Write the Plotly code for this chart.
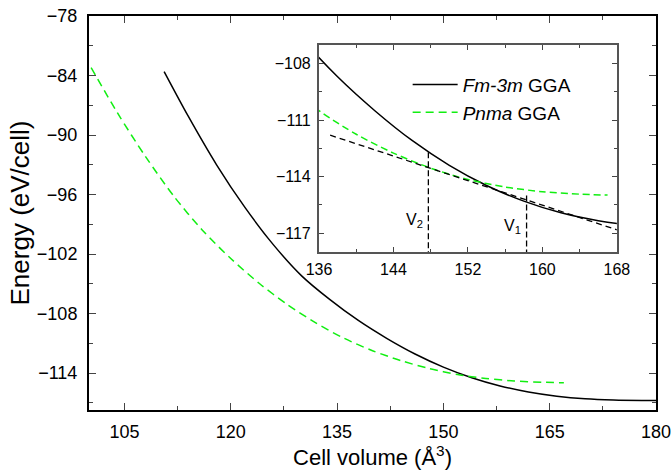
import plotly.graph_objects as go

# Fm-3m GGA (black solid)
fm_v = [110.6, 114, 118, 122, 126, 130, 134, 138, 142, 146, 150, 154, 158, 162, 166, 170, 174, 178, 180]
fm_e = [-83.6, -88.1, -93.0, -97.3, -101.05, -104.2, -106.6, -108.7, -110.5, -112.08, -113.4, -114.47, -115.3,
        -115.92, -116.34, -116.6, -116.72, -116.76, -116.76]

# Pnma GGA (green dashed)
pn_v = [100.3, 104, 108, 112, 116, 120, 124, 128, 132, 136, 140, 144, 148, 152, 156, 160, 164, 167]
pn_e = [-83.2, -87.75, -92.2, -96.2, -99.6, -102.45, -104.95, -107.1, -108.95, -110.5, -111.75, -112.75, -113.55,
        -114.15, -114.55, -114.8, -114.93, -114.98]

# common tangent (inset)
tan_v = [137.2, 168.0]
tan_e = [-111.8, -116.82]

# transition volumes
v2 = 147.75
v1 = 158.3
v2_top = -112.7
v1_top = -115.0

FONT = "Arial, Liberation Sans, sans-serif"
GREEN = "#11ee11"

fig = go.Figure()
fig.add_trace(go.Scatter(x=fm_v, y=fm_e, mode="lines", line=dict(color="black", width=1.5, shape="spline", smoothing=0.8),
                         name="<i>Fm-3m</i> GGA"))
fig.add_trace(go.Scatter(x=pn_v, y=pn_e, mode="lines",
                         line=dict(color=GREEN, width=1.5, dash="8px,5px", shape="spline", smoothing=0.8),
                         name="<i>Pnma</i> GGA"))
# inset
fig.add_trace(go.Scatter(x=fm_v, y=fm_e, mode="lines", line=dict(color="black", width=1.5, shape="spline", smoothing=0.8),
                         xaxis="x2", yaxis="y2", showlegend=False))
fig.add_trace(go.Scatter(x=pn_v, y=pn_e, mode="lines",
                         line=dict(color=GREEN, width=1.5, dash="7px,4px", shape="spline", smoothing=0.8),
                         xaxis="x2", yaxis="y2", showlegend=False))
fig.add_trace(go.Scatter(x=tan_v, y=tan_e, mode="lines", line=dict(color="black", width=1.3, dash="6px,4px"),
                         xaxis="x2", yaxis="y2", showlegend=False))
fig.add_trace(go.Scatter(x=[v2, v2], y=[v2_top, -118], mode="lines", line=dict(color="black", width=1.3, dash="6px,3px"),
                         xaxis="x2", yaxis="y2", showlegend=False))
fig.add_trace(go.Scatter(x=[v1, v1], y=[v1_top, -118], mode="lines", line=dict(color="black", width=1.3, dash="6px,3px"),
                         xaxis="x2", yaxis="y2", showlegend=False))

fig.add_annotation(x=v2 - 0.4, y=-116.35, xref="x2", yref="y2", text="V<sub>2</sub>", showarrow=False,
                   xanchor="right", yanchor="middle", font=dict(size=16, color="black", family=FONT))
fig.add_annotation(x=v1 - 0.4, y=-116.65, xref="x2", yref="y2", text="V<sub>1</sub>", showarrow=False,
                   xanchor="right", yanchor="middle", font=dict(size=16, color="black", family=FONT))

fig.update_layout(
    width=672, height=475,
    margin=dict(l=89, r=16, t=16, b=65),
    paper_bgcolor="white", plot_bgcolor="white",
    font=dict(family=FONT, color="black"),
    showlegend=True,
    legend=dict(x=0.562, y=0.874, xanchor="left", yanchor="top", bgcolor="rgba(0,0,0,0)",
                font=dict(size=19, family=FONT, color="black"), tracegroupgap=0, itemwidth=45),
    xaxis=dict(range=[100, 180], tick0=105, dtick=15, ticks="inside", ticklen=7, tickwidth=1.2,
               minor=dict(dtick=7.5, tick0=105, ticks="inside", ticklen=4, tickwidth=1.2),
               showline=True, linecolor="black", linewidth=2, mirror="allticks", showgrid=False, zeroline=False,
               tickfont=dict(size=18), ticklabelstandoff=4, automargin=False,
               title=dict(text="Cell volume (Å<sup>3</sup>)", font=dict(size=22), standoff=4)),
    yaxis=dict(range=[-117.73, -77.995], tick0=-114, dtick=6, ticks="inside", ticklen=7, tickwidth=1.2,
               minor=dict(dtick=3, ticks="inside", ticklen=4, tickwidth=1.2),
               showline=True, linecolor="black", linewidth=2, mirror="allticks", showgrid=False, zeroline=False,
               tickfont=dict(size=18), ticklabelstandoff=6, automargin=False,
               title=dict(text="Energy (eV/cell)", font=dict(size=26), standoff=0)),
    xaxis2=dict(domain=[0.4056, 0.931], anchor="y2", range=[136, 168], tick0=136, dtick=8, ticks="inside",
                ticklen=5, tickwidth=1, minor=dict(dtick=4, ticks="inside", ticklen=3, tickwidth=1),
                showline=True, linecolor="#555555", linewidth=2, mirror="allticks", showgrid=False, zeroline=False,
                tickfont=dict(size=16), ticklabelstandoff=2, automargin=False),
    yaxis2=dict(domain=[0.401, 0.927], anchor="x2", range=[-118, -107], tick0=-108, dtick=3, ticks="inside",
                ticklen=5, tickwidth=1, minor=dict(dtick=1.5, ticks="inside", ticklen=3, tickwidth=1),
                showline=True, linecolor="#555555", linewidth=2, mirror="allticks", showgrid=False, zeroline=False,
                tickfont=dict(size=16), ticklabelstandoff=3, automargin=False),
)

fig.write_html("out.html", config={"displayModeBar": False},
               post_script="document.body.style.margin='0';document.body.style.overflow='hidden';")
